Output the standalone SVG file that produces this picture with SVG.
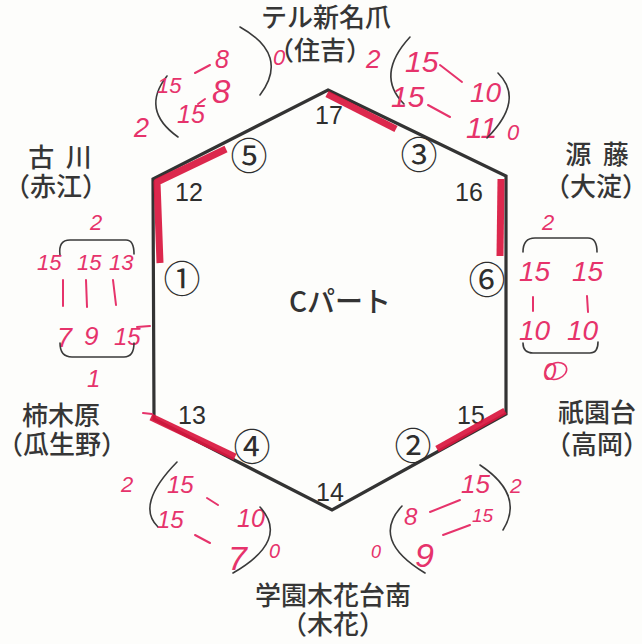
<svg xmlns="http://www.w3.org/2000/svg" width="642" height="644" viewBox="0 0 642 644">
<style>
.team{font-family:"Noto Sans CJK JP","Noto Sans",sans-serif;font-size:26px;font-weight:500;fill:#363636;text-anchor:middle}
.num{font-family:"Liberation Sans","Noto Sans",sans-serif;font-size:25px;fill:#2e2e2e}
.circ{font-family:"Noto Sans CJK JP","DejaVu Sans",sans-serif;font-size:37px;fill:#2e2e2e;text-anchor:middle}
.hw{font-family:"Liberation Sans",sans-serif;font-style:italic;fill:#e6336b}
.hl{stroke:#e6336b;stroke-width:2;stroke-linecap:round;fill:none}
.br{stroke:#3a3a3a;stroke-width:1.6;fill:none;stroke-linecap:round}
.mark{stroke:#d9163e;stroke-width:7;fill:none;stroke-linecap:butt;stroke-linejoin:round;opacity:0.92}
</style>
<rect width="642" height="644" fill="#fdfdfb"/>

<g id="hexagon">
<polygon points="328,90 506,176 506,414 332,510 154,419 153,179" fill="none" stroke="#333" stroke-width="3.2" stroke-linejoin="miter"/>
<text x="340" y="312" font-family="'Noto Sans CJK JP',sans-serif" font-size="28" font-weight="500" fill="#333" text-anchor="middle">Cパート</text>
<text class="num" x="315" y="124">17</text>
<text class="num" x="175" y="201">12</text>
<text class="num" x="455" y="201">16</text>
<text class="num" x="178" y="424">13</text>
<text class="num" x="457" y="424">15</text>
<text class="num" x="316" y="501">14</text>
<text class="circ" x="249" y="170">⑤</text>
<text class="circ" x="419" y="169">③</text>
<text class="circ" x="182" y="293">①</text>
<text class="circ" x="487" y="294">⑥</text>
<text class="circ" x="252" y="461">④</text>
<text class="circ" x="413" y="460">②</text>
</g>

<g id="connectors">
<path class="mark" d="M327,94 L396,129"/>
<path class="mark" d="M226,149 L157,182 L160,263"/>
<path class="mark" d="M501,179 L500,256"/>
<path class="mark" d="M151,417 L235,457"/>
<path class="mark" d="M505,411 L437,449"/>
<path class="hl" d="M143,413 L152,414"/>
</g>

<g id="team-top">
<text class="team" x="326" y="27">テル新名爪</text>
<text class="team" x="320" y="60">（住吉）</text>
</g>
<g id="team-upper-left">
<text class="team" x="60" y="167" xml:space="preserve">古  川</text>
<text class="team" x="56" y="196">（赤江）</text>
</g>
<g id="team-upper-right">
<text class="team" x="597" y="164" xml:space="preserve">源  藤</text>
<text class="team" x="596" y="196">（大淀）</text>
</g>
<g id="team-lower-left">
<text class="team" x="61" y="425">柿木原</text>
<text class="team" x="62" y="454">（瓜生野）</text>
</g>
<g id="team-lower-right">
<text class="team" x="597" y="422">祇園台</text>
<text class="team" x="597" y="454">（高岡）</text>
</g>
<g id="team-bottom">
<text class="team" x="333" y="605">学園木花台南</text>
<text class="team" x="333" y="634">（木花）</text>
</g>

<g id="score-5-17">
<path class="br" d="M167,76 Q140,110 178,137"/>
<path class="br" d="M240,27 Q290,55 260,95"/>
<text class="hw" x="157" y="93" font-size="22">15</text>
<path class="hl" d="M195,73 L210,65"/>
<text class="hw" x="215" y="68" font-size="25">8</text>
<text class="hw" x="177" y="123" font-size="25">15</text>
<path class="hl" d="M198,104 L205,99"/>
<text class="hw" x="212" y="103" font-size="33">8</text>
<text class="hw" x="134" y="137" font-size="27">2</text>
<text class="hw" x="273" y="65" font-size="22">0</text>
</g>

<g id="score-17-3">
<text class="hw" x="366" y="68" font-size="26">2</text>
<path class="br" d="M410,37 Q375,75 404,104"/>
<text class="hw" x="405" y="72" font-size="30">15</text>
<path class="hl" d="M440,65 L462,82"/>
<text class="hw" x="470" y="102" font-size="28">10</text>
<text class="hw" x="391" y="107" font-size="30">15</text>
<path class="hl" d="M428,105 L450,117"/>
<text class="hw" x="466" y="138" font-size="30">11</text>
<path class="br" d="M498,73 Q525,100 487,138"/>
<text class="hw" x="507" y="140" font-size="22">0</text>
</g>

<g id="score-12-1-13">
<text class="hw" x="90" y="230" font-size="22">2</text>
<path class="br" d="M60,255 Q58,240 70,240 L126,240 Q134,240 134,254"/>
<text class="hw" x="37" y="270" font-size="22">15</text>
<text class="hw" x="77" y="270" font-size="22">15</text>
<text class="hw" x="109" y="270" font-size="22">13</text>
<path class="hl" d="M63,280 L63,306 M86,280 L87,307 M113,280 L116,305"/>
<text class="hw" x="57" y="347" font-size="27">7</text>
<text class="hw" x="84" y="345" font-size="26">9</text>
<text class="hw" x="114" y="345" font-size="24">15</text>
<path class="hl" d="M137,327 L150,326"/>
<path class="br" d="M60,343 Q60,357 72,357 L124,357 Q134,357 134,343"/>
<text class="hw" x="87" y="387" font-size="24">1</text>
</g>

<g id="score-16-6-15">
<text class="hw" x="542" y="230" font-size="22">2</text>
<path class="br" d="M523,252 Q523,238 535,238 L588,238 Q597,238 597,252"/>
<text class="hw" x="519" y="281" font-size="28">15</text>
<text class="hw" x="572" y="281" font-size="28">15</text>
<path class="hl" d="M533,297 L533,311 M587,296 L588,312"/>
<text class="hw" x="519" y="340" font-size="28">10</text>
<text class="hw" x="567" y="340" font-size="28">10</text>
<path class="br" d="M523,343 Q523,353 533,353 L590,353 Q598,353 598,342"/>
<text class="hw" x="543" y="380" font-size="24">0</text>
<ellipse cx="556" cy="371" rx="11" ry="8" fill="none" stroke="#e6336b" stroke-width="1.5" transform="rotate(-20 556 371)"/>
</g>

<g id="score-13-4-14">
<text class="hw" x="121" y="492" font-size="22">2</text>
<path class="br" d="M177,462 Q135,505 158,527"/>
<text class="hw" x="167" y="493" font-size="24">15</text>
<path class="hl" d="M207,498 L218,505"/>
<text class="hw" x="237" y="527" font-size="25">10</text>
<text class="hw" x="157" y="528" font-size="24">15</text>
<path class="hl" d="M195,535 L210,543"/>
<text class="hw" x="228" y="570" font-size="34">7</text>
<path class="br" d="M260,507 Q290,540 233,573"/>
<text class="hw" x="269" y="558" font-size="20">0</text>
</g>

<g id="score-14-2-15">
<text class="hw" x="371" y="558" font-size="18">0</text>
<path class="br" d="M402,506 Q370,540 425,573"/>
<text class="hw" x="404" y="525" font-size="24">8</text>
<path class="hl" d="M430,512 L460,500"/>
<text class="hw" x="461" y="493" font-size="26">15</text>
<text class="hw" x="415" y="567" font-size="34">9</text>
<path class="hl" d="M443,535 L470,525"/>
<text class="hw" x="472" y="522" font-size="19">15</text>
<path class="br" d="M480,465 Q525,495 503,530"/>
<text class="hw" x="510" y="493" font-size="21">2</text>
</g>
</svg>
